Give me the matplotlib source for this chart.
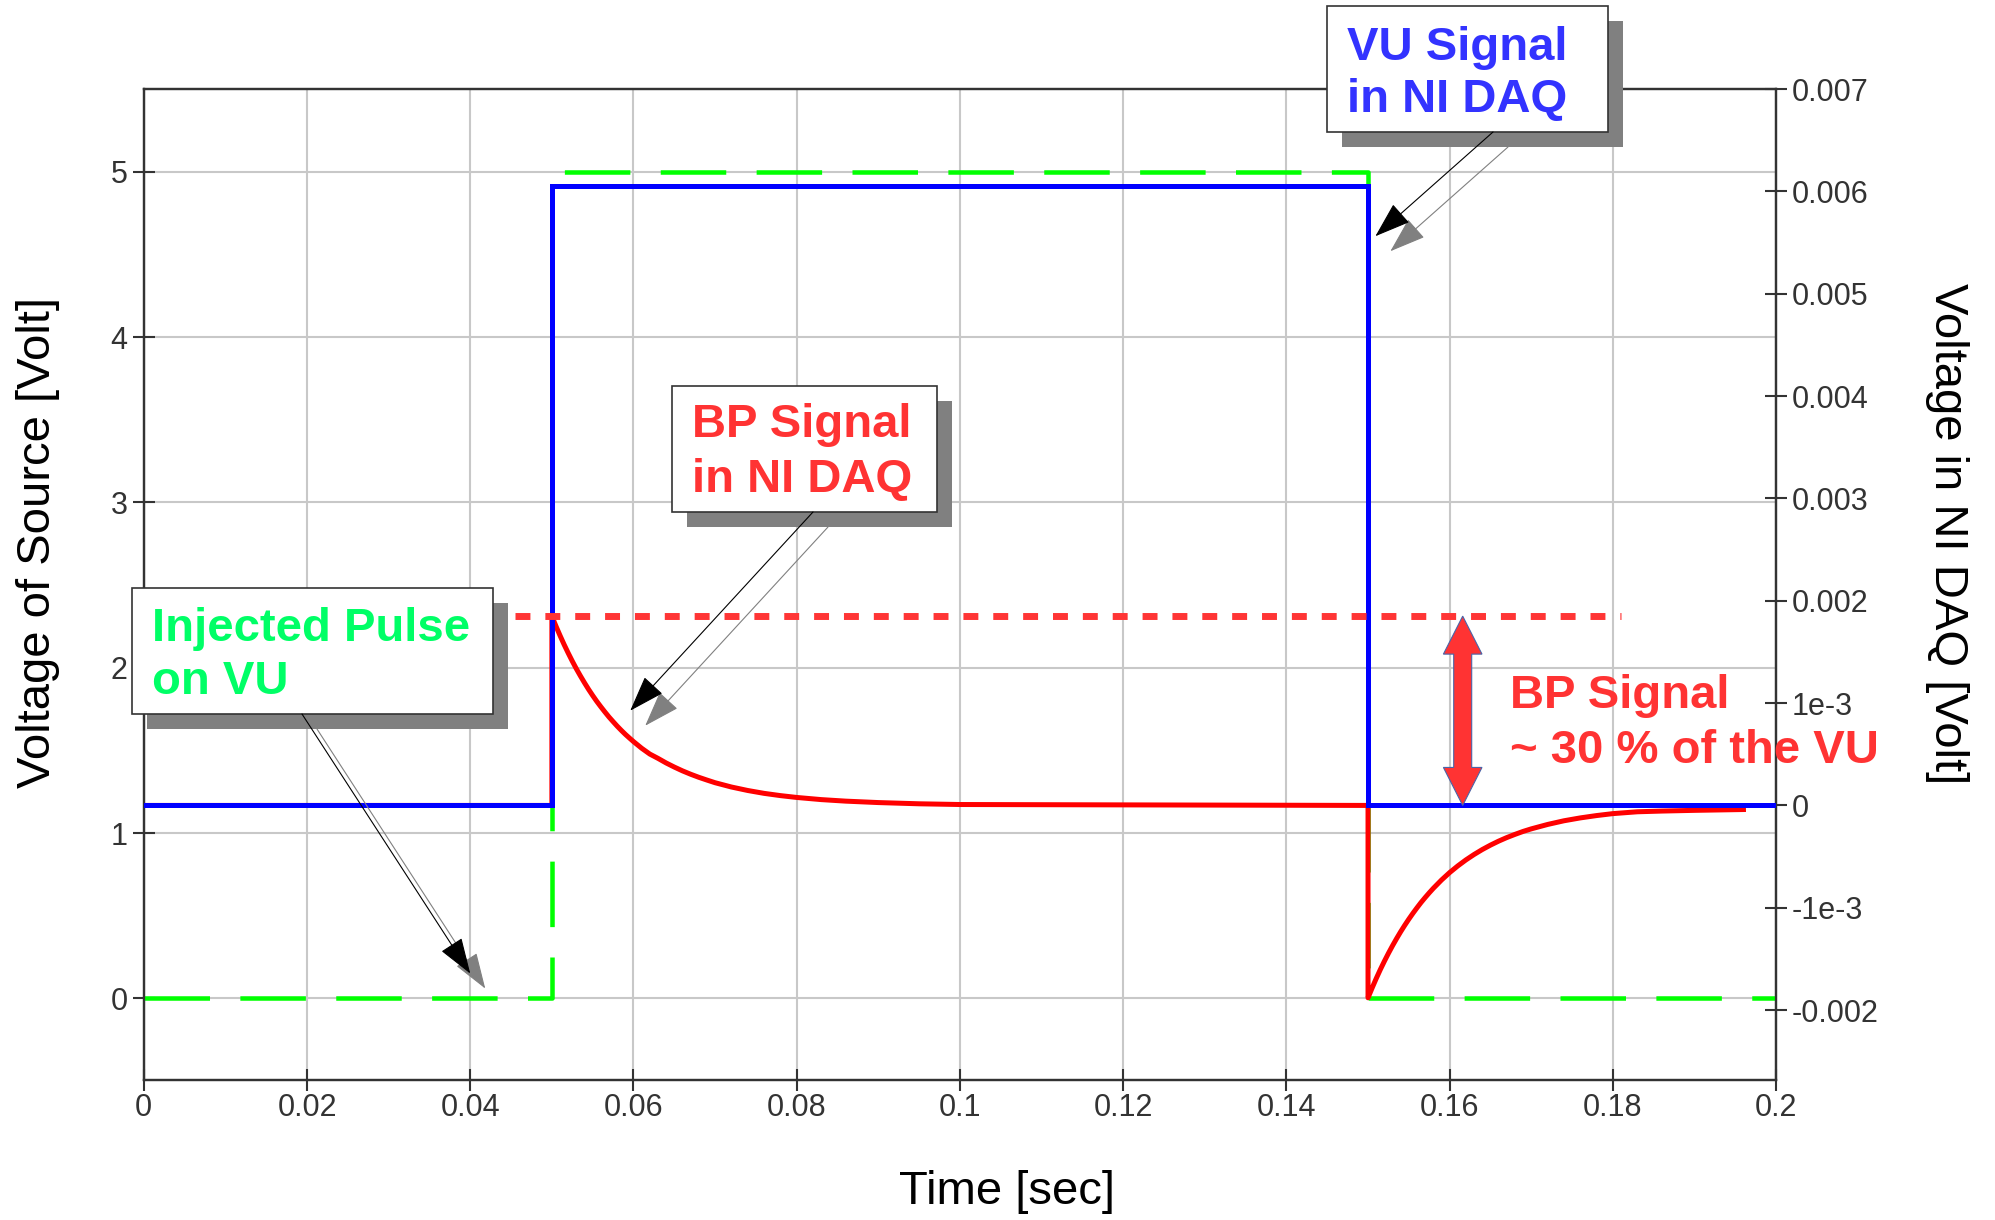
import numpy as np
import matplotlib
matplotlib.use("Agg")
import matplotlib.pyplot as plt
from matplotlib.patches import Rectangle, Polygon, ConnectionPatch
from matplotlib import transforms

plt.rcParams['font.family'] = ['Liberation Sans', 'DejaVu Sans']

# ---------------- data ----------------
# injected source pulse (left axis, Volt), step curve
src_t = [0.0, 0.05, 0.15, 0.2]
src_v = [0.0, 5.0, 0.0, 0.0]
# VU signal in NI DAQ (right axis, Volt), step curve
vu_t = [0.0, 0.05, 0.15, 0.2]
vu_v = [0.0, 0.00605, 0.0, 0.0]
# BP signal in NI DAQ (right axis, milliVolt): rise at 0.05 s and decay
bp_rise_t = [0.0, 0.05, 0.05, 0.0505, 0.051, 0.0515, 0.052, 0.0525, 0.053, 0.0535,
             0.054, 0.0545, 0.055, 0.0555, 0.056, 0.0565, 0.057, 0.0575, 0.058,
             0.0585, 0.059, 0.0595, 0.060, 0.061, 0.062, 0.063, 0.064, 0.065,
             0.066, 0.067, 0.068, 0.069, 0.070, 0.072, 0.074, 0.076, 0.078,
             0.080, 0.083, 0.086, 0.090, 0.095, 0.100, 0.150]
bp_rise_mv = [0.0, 0.0, 1.85, 1.752, 1.660, 1.572, 1.489, 1.410, 1.335, 1.265,
              1.198, 1.134, 1.074, 1.017, 0.964, 0.913, 0.864, 0.819, 0.775,
              0.734, 0.695, 0.659, 0.624, 0.559, 0.502, 0.46, 0.415, 0.375,
              0.338, 0.305, 0.275, 0.248, 0.222, 0.18, 0.146, 0.118, 0.096,
              0.078, 0.057, 0.042, 0.028, 0.016, 0.009, 0.0]
# BP signal: drop at 0.15 s and recovery
bp_fall_t = [0.150, 0.150, 0.1505, 0.151, 0.1515, 0.152, 0.1525, 0.153, 0.1535,
             0.154, 0.1545, 0.155, 0.1555, 0.156, 0.1565, 0.157, 0.1575, 0.158,
             0.159, 0.160, 0.161, 0.162, 0.163, 0.164, 0.165, 0.166, 0.167,
             0.168, 0.169, 0.170, 0.172, 0.174, 0.176, 0.178, 0.180, 0.183,
             0.186, 0.190, 0.193, 0.196]
bp_fall_mv = [0.0, -1.88, -1.784, -1.692, -1.605, -1.523, -1.445, -1.371, -1.301,
              -1.234, -1.171, -1.111, -1.054, -1.000, -0.948, -0.900, -0.854, -0.810,
              -0.729, -0.656, -0.591, -0.532, -0.479, -0.431, -0.388, -0.349, -0.314,
              -0.283, -0.254, -0.229, -0.186, -0.150, -0.122, -0.099, -0.080, -0.062,
              -0.055, -0.048, -0.044, -0.040]
bp_peak_mv = 1.85
bp_ref_t = [0.0455, 0.181]

x_ticks = [0, 0.02, 0.04, 0.06, 0.08, 0.1, 0.12, 0.14, 0.16, 0.18, 0.2]
x_tick_labels = ['0', '0.02', '0.04', '0.06', '0.08', '0.1', '0.12', '0.14',
                 '0.16', '0.18', '0.2']
left_ticks = [0, 1, 2, 3, 4, 5]
left_tick_labels = ['0', '1', '2', '3', '4', '5']
right_ticks = [-0.002, -0.001, 0, 0.001, 0.002, 0.003, 0.004, 0.005, 0.006, 0.007]
right_tick_labels = ['-0.002', '-1e-3', '0', '1e-3', '0.002', '0.003', '0.004',
                     '0.005', '0.006', '0.007']

# ---------------- figure ----------------
W, H = 1995, 1220
fig = plt.figure(figsize=(W / 100, H / 100), dpi=100)
fig.patch.set_facecolor('white')
L, R, T, B = 143.8, 1776.1, 89.1, 1080.2
ax = fig.add_axes([L / W, 1 - B / H, (R - L) / W, (B - T) / H])
ax2 = ax.twinx()

ax.set_xlim(0, 0.2)
ax.set_ylim(-0.495, 5.5)
ax2.set_ylim(-0.002685, 0.007)

ax.grid(True, color='#c8c8c8', lw=1.5)
ax.set_axisbelow(True)

spine_c = '#333333'
for a in (ax, ax2):
    for s in a.spines.values():
        s.set_color(spine_c)
        s.set_linewidth(1.6)

ax.set_xticks(x_ticks)
ax.set_xticklabels(x_tick_labels)
ax.set_yticks(left_ticks)
ax.set_yticklabels(left_tick_labels)
ax2.set_yticks(right_ticks)
ax2.set_yticklabels(right_tick_labels)

ax.tick_params(axis='both', direction='inout', length=16, width=1.5,
               color=spine_c, labelsize=22, labelcolor='#333333')
ax.tick_params(axis='x', pad=1.5)
ax.tick_params(axis='y', pad=3.8)
ax2.tick_params(axis='y', direction='inout', length=16, width=1.5,
                color=spine_c, labelsize=22, labelcolor='#333333', pad=3.2)

# lines
ax.plot(src_t, src_v, drawstyle='steps-post', color='#00ff00', lw=3.25,
        dashes=(14.51, 6.73), solid_joinstyle='miter', zorder=3)
bp_t = bp_rise_t + bp_fall_t
bp_v = np.array(bp_rise_mv + bp_fall_mv) * 1e-3
ax2.plot(bp_t, bp_v, color='#ff0000', lw=3.6, zorder=2)
ax2.plot(vu_t, vu_v, drawstyle='steps-post', color='#0000ff', lw=3.6,
         solid_joinstyle='miter', zorder=3)
bp_peak = bp_peak_mv * 1e-3
ax2.plot(bp_ref_t, [bp_peak, bp_peak], color='#ff3535', lw=5.0,
         dashes=(2.15, 2.15), zorder=4)

# double headed red arrow (BP amplitude)
pxt = 8161.5          # pixels per second on x
pxv = 102330.0        # pixels per volt on right axis
xc = 0.1616
bhw, hhw, hl = 9 / pxt, 19.3 / pxt, 38 / pxv
top, bot = bp_peak, 0.0
verts = [(xc, top), (xc + hhw, top - hl), (xc + bhw, top - hl),
         (xc + bhw, bot + hl), (xc + hhw, bot + hl), (xc, bot),
         (xc - hhw, bot + hl), (xc - bhw, bot + hl), (xc - bhw, top - hl),
         (xc - hhw, top - hl)]
ax2.add_patch(Polygon(verts, closed=True, facecolor='#ff3333',
                      edgecolor='#4a64a8', lw=0.8, zorder=6))

# axis labels
ax.set_xlabel('Time [sec]', fontsize=34, va='center')
ax.xaxis.set_label_coords(0.5288, -0.1128)
ax.set_ylabel('Voltage of Source [Volt]', fontsize=34, va='center')
ax.yaxis.set_label_coords(-0.0648, 0.543)
ax2.set_ylabel('Voltage in NI DAQ [Volt]', fontsize=34, rotation=270, va='center')
ax2.yaxis.set_label_coords(1.1047, 0.551)

# ---------------- callout boxes ----------------
SH = 15  # shadow offset in pixels


def box(x0, y0, x1, y1):
    fig.add_artist(Rectangle(((x0 + SH) / W, 1 - (y1 + SH) / H), (x1 - x0) / W,
                             (y1 - y0) / H, transform=fig.transFigure,
                             facecolor='#808080', edgecolor='none', zorder=5))
    fig.add_artist(Rectangle((x0 / W, 1 - y1 / H), (x1 - x0) / W, (y1 - y0) / H,
                             transform=fig.transFigure, facecolor='white',
                             edgecolor='#333333', lw=1.2, zorder=6))


def arrow(start, tip):
    for d, col, z in ((SH, '#808080', 4), (0, 'black', 7)):
        tr = transforms.offset_copy(ax.transData, fig=fig, x=d, y=-d, units='dots')
        cp = ConnectionPatch(xyA=(start[0] + d, H - start[1] - d),
                             coordsA='figure pixels', xyB=tip, coordsB=tr,
                             arrowstyle='-|>,head_length=23,head_width=7.9',
                             mutation_scale=1, lw=0.8, color=col, zorder=z,
                             shrinkA=0, shrinkB=0)
        fig.add_artist(cp)


def label(x, y, s, col):
    fig.text(x / W, 1 - y / H, s, ha='left', va='baseline', fontsize=34,
             fontweight='bold', color=col, zorder=9)


# VU signal
box(1327, 6, 1608, 132)
arrow((1493, 132), (0.1509, 4.61))
label(1347, 60, 'VU Signal', '#3333ff')
label(1347, 112, 'in NI DAQ', '#3333ff')

# BP signal
box(672, 386, 937, 512)
arrow((813, 512), (0.0596, 1.74))
label(692, 437, 'BP Signal', '#ff3333')
label(692, 492, 'in NI DAQ', '#ff3333')

# Injected pulse
box(132, 588, 493, 714)
arrow((302, 714), (0.04, 0.15))
label(152, 641, 'Injected Pulse', '#00ff66')
label(152, 694, 'on VU', '#00ff66')

# BP amplitude note
label(1510, 708, 'BP Signal', '#ff3333')
label(1510, 763, '~ 30 % of the VU', '#ff3333')

fig.savefig('out.png', dpi=100, facecolor='white')
